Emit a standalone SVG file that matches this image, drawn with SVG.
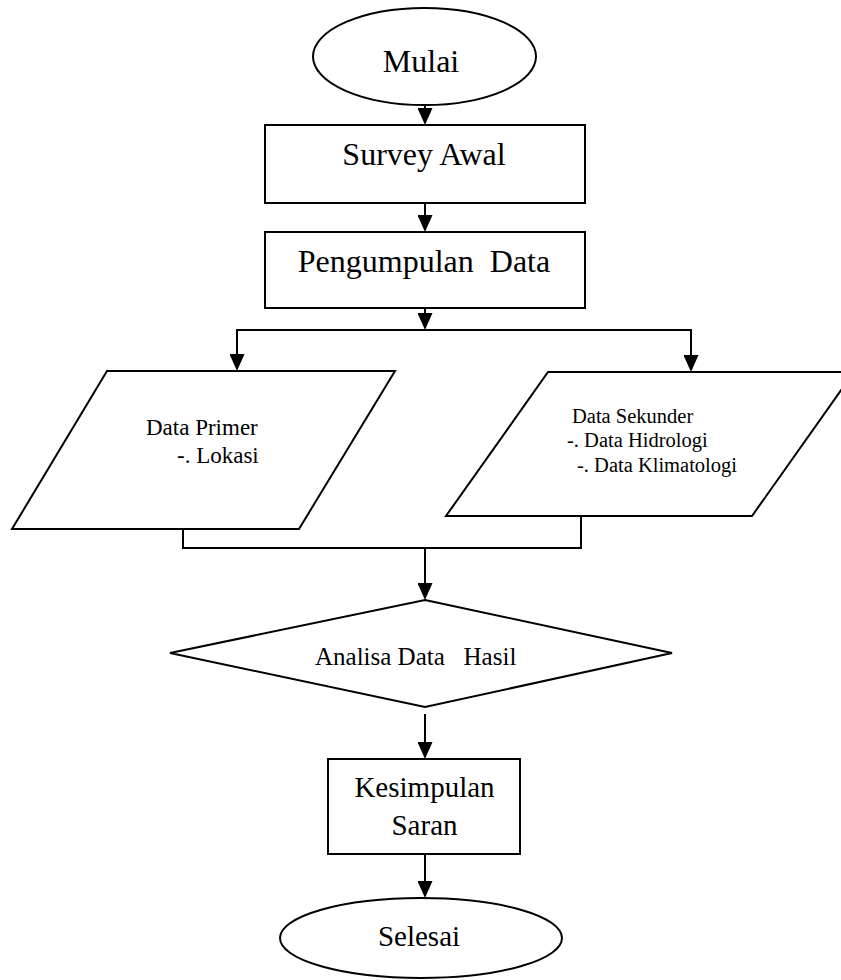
<svg xmlns="http://www.w3.org/2000/svg" width="841" height="980" viewBox="0 0 841 980">
<style>
.s{fill:#fff;stroke:#000;stroke-width:2}
.c{fill:none;stroke:#000;stroke-width:2}
text{font-family:"Liberation Serif","Times New Roman",serif;fill:#000}
.big{font-size:32px;text-anchor:middle}
.mid{font-size:29px;text-anchor:middle}
</style>
<defs>
<marker id="ah" viewBox="0 0 17 15" refX="7" refY="7.5" markerWidth="17" markerHeight="15" orient="auto" markerUnits="userSpaceOnUse">
<path d="M0,0 L17,7.5 L0,15 z" fill="#000"/>
</marker>
</defs>
<g id="connectors">
<line class="c" x1="425" y1="105" x2="425" y2="115" marker-end="url(#ah)"/>
<line class="c" x1="425" y1="200" x2="425" y2="222" marker-end="url(#ah)"/>
<line class="c" x1="425" y1="308" x2="425" y2="320" marker-end="url(#ah)"/>
<polyline class="c" points="237,361 237,330 691,330 691,362"/>
<line class="c" x1="237" y1="355" x2="237" y2="361" marker-end="url(#ah)"/>
<line class="c" x1="691" y1="356" x2="691" y2="362" marker-end="url(#ah)"/>
<polyline class="c" points="183,529 183,548 581,548 581,516"/>
<line class="c" x1="425" y1="548" x2="425" y2="590" marker-end="url(#ah)"/>
<line class="c" x1="425" y1="714" x2="425" y2="749" marker-end="url(#ah)"/>
<line class="c" x1="425" y1="854" x2="425" y2="888" marker-end="url(#ah)"/>
</g>
<g id="mulai">
<ellipse class="s" cx="424.5" cy="56.5" rx="111.5" ry="48.5"/>
<text class="big" x="421" y="72">Mulai</text>
</g>
<g id="survey">
<rect class="s" x="265" y="125" width="320" height="78"/>
<text class="big" x="424" y="165">Survey Awal</text>
</g>
<g id="pengumpulan">
<rect class="s" x="265" y="232" width="320" height="76"/>
<text class="big" x="424" y="272" xml:space="preserve">Pengumpulan  Data</text>
</g>
<g id="primer">
<polygon class="s" points="107,371 395,371 299,529 12,529"/>
<text x="146" y="435" font-size="23">Data Primer</text>
<text x="177" y="463" font-size="23">-. Lokasi</text>
</g>
<g id="sekunder">
<polygon class="s" points="548,372 854,372 752,516 446,516"/>
<text x="572" y="423" font-size="20.5">Data Sekunder</text>
<text x="567" y="447" font-size="20.5">-. Data Hidrologi</text>
<text x="577" y="472" font-size="20.5">-. Data Klimatologi</text>
</g>
<g id="analisa">
<polygon class="s" points="425,600 672,653 425,707 170,653"/>
<text x="315" y="665" font-size="25" xml:space="preserve">Analisa Data   Hasil</text>
</g>
<g id="kesimpulan">
<rect class="s" x="328" y="759" width="192" height="95"/>
<text class="mid" x="424.5" y="797">Kesimpulan</text>
<text class="mid" x="424.5" y="835">Saran</text>
</g>
<g id="selesai">
<ellipse class="s" cx="421" cy="938" rx="141" ry="40"/>
<text class="mid" x="419" y="946">Selesai</text>
</g>
</svg>
